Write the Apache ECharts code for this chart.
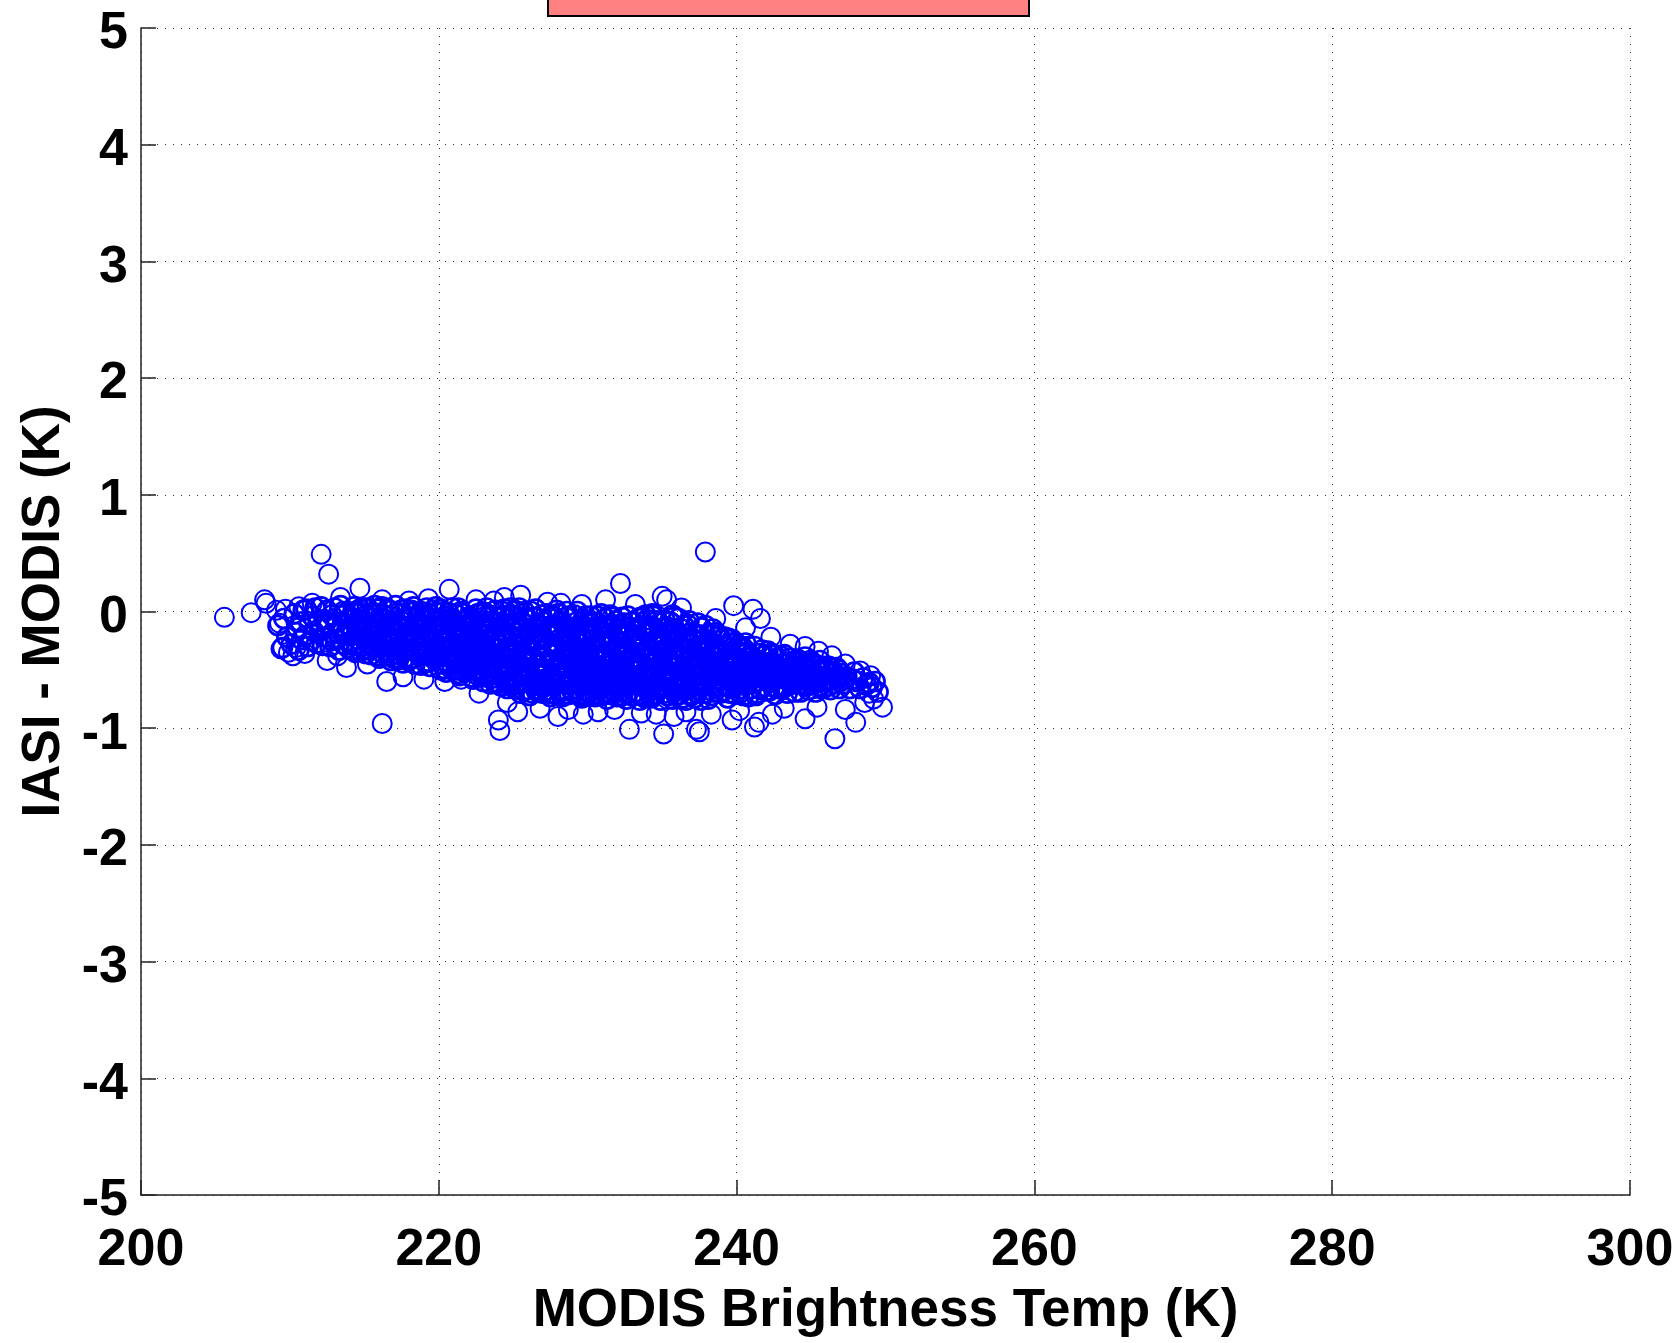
<!DOCTYPE html>
<html>
<head>
<meta charset="utf-8">
<script src="https://cdn.jsdelivr.net/npm/echarts@6/dist/echarts.min.js"></script>
<style>html,body{margin:0;padding:0;background:#fff;}#chart{width:1677px;height:1343px;}</style>
</head>
<body>
<div id="chart"></div>
<script>
// Axis settings / labels
const xTitle = 'MODIS Brightness Temp (K)';
const yTitle = 'IASI - MODIS (K)';
const xRange = [200, 300, 20];
const yRange = [-5, 5, 1];

// Dense core of the cloud [MODIS BT (K), IASI - MODIS (K)]
const cloudPoints = [
[209.2,-0.12],[209.5,-0.31],[209.8,-0.22],[209.6,-0.06],
[210.1,-0.28],[210.3,-0.02],[210.4,-0.18],[210.6,-0.33],[210.7,-0.09],[210.8,-0.24],[210.9,0.01],[210.5,-0.14],
[211.0,-0.21],[211.1,0.02],[211.2,-0.3],[211.3,-0.11],[211.4,-0.25],[211.5,-0.04],[211.6,-0.17],[211.7,0.03],[211.8,-0.27],[211.9,-0.08],
[212.0,-0.15],[212.1,0.04],[212.2,-0.29],[212.3,-0.07],[212.4,-0.22],[212.5,0.01],[212.6,-0.12],[212.7,-0.3],[212.8,-0.03],[212.9,-0.19],[212.4,-0.1],[212.8,-0.25],
[213.0,0.03],[213.1,-0.24],[213.2,-0.09],[213.3,-0.33],[213.4,0.05],[213.5,-0.16],[213.6,-0.28],[213.7,-0.02],[213.8,-0.2],[213.9,-0.11],[213.3,-0.19],[213.6,0.0],[213.9,-0.31],
[214.0,-0.27],[214.1,-0.05],[214.2,-0.18],[214.3,0.04],[214.4,-0.35],[214.5,-0.12],[214.6,-0.24],[214.7,0.02],[214.8,-0.3],[214.9,-0.08],[214.2,-0.33],[214.5,-0.02],[214.7,-0.16],[214.9,-0.22],
[215.0,-0.1],[215.1,-0.36],[215.2,0.03],[215.3,-0.21],[215.4,-0.06],[215.5,-0.3],[215.6,-0.14],[215.7,0.05],[215.8,-0.25],[215.9,-0.38],[215.2,-0.17],[215.4,-0.33],[215.6,-0.01],[215.8,-0.09],[215.9,-0.2],
[216.0,-0.4],[216.1,-0.15],[216.2,0.04],[216.3,-0.28],[216.4,-0.07],[216.5,-0.35],[216.6,-0.2],[216.7,0.01],[216.8,-0.42],[216.9,-0.12],[216.1,-0.31],[216.3,-0.03],[216.5,-0.24],[216.7,-0.38],[216.8,-0.09],[216.9,-0.27],
[217.0,-0.19],[217.1,0.05],[217.2,-0.37],[217.3,-0.11],[217.4,-0.29],[217.5,-0.02],[217.6,-0.44],[217.7,-0.22],[217.8,0.02],[217.9,-0.33],[217.1,-0.25],[217.3,-0.41],[217.5,-0.15],[217.7,-0.06],[217.8,-0.39],[217.9,-0.13],
[218.0,-0.05],[218.1,-0.32],[218.2,-0.17],[218.3,0.04],[218.4,-0.45],[218.5,-0.24],[218.6,-0.1],[218.7,-0.38],[218.8,0.0],[218.9,-0.28],[218.1,-0.41],[218.2,-0.01],[218.4,-0.21],[218.5,-0.35],[218.7,-0.14],[218.8,-0.46],[218.9,-0.07],
[219.0,-0.36],[219.1,-0.12],[219.2,0.03],[219.3,-0.27],[219.4,-0.47],[219.5,-0.06],[219.6,-0.19],[219.7,-0.41],[219.8,0.04],[219.9,-0.31],[219.1,-0.44],[219.2,-0.23],[219.4,-0.02],[219.5,-0.38],[219.7,-0.15],[219.8,-0.29],[219.9,-0.09],
[220.0,-0.2],[220.1,0.02],[220.2,-0.45],[220.3,-0.11],[220.4,-0.33],[220.5,-0.52],[220.6,-0.04],[220.7,-0.26],[220.8,-0.4],[220.9,0.03],[220.1,-0.15],[220.2,-0.3],[220.4,-0.49],[220.5,-0.07],[220.7,-0.37],[220.8,-0.18],[220.9,-0.5],[220.6,-0.22],
[221.0,-0.08],[221.1,-0.41],[221.2,-0.23],[221.3,0.03],[221.4,-0.55],[221.5,-0.16],[221.6,-0.34],[221.7,-0.02],[221.8,-0.47],[221.9,-0.27],[221.1,-0.12],[221.2,-0.5],[221.4,-0.3],[221.5,0.0],[221.6,-0.44],[221.8,-0.19],[221.9,-0.37],[221.3,-0.53],
[222.0,-0.31],[222.1,-0.05],[222.2,-0.56],[222.3,-0.19],[222.4,-0.42],[222.5,0.02],[222.6,-0.27],[222.7,-0.5],[222.8,-0.11],[222.9,-0.36],[222.1,-0.47],[222.2,-0.14],[222.3,-0.58],[222.5,-0.33],[222.6,-0.02],[222.7,-0.23],[222.8,-0.53],[222.9,-0.08],[222.4,-0.39],
[223.0,-0.6],[223.1,-0.17],[223.2,0.03],[223.3,-0.39],[223.4,-0.26],[223.5,-0.52],[223.6,-0.08],[223.7,-0.45],[223.8,-0.31],[223.9,-0.62],[223.1,-0.01],[223.2,-0.48],[223.3,-0.13],[223.5,-0.35],[223.6,-0.57],[223.7,-0.21],[223.8,0.01],[223.9,-0.42],[223.4,-0.55],[223.0,-0.28],
[224.0,-0.1],[224.1,-0.44],[224.2,-0.64],[224.3,-0.23],[224.4,0.02],[224.5,-0.5],[224.6,-0.33],[224.7,-0.6],[224.8,-0.15],[224.9,-0.4],[224.1,-0.28],[224.2,-0.04],[224.3,-0.55],[224.5,-0.19],[224.6,-0.66],[224.7,-0.37],[224.8,0.03],[224.9,-0.58],[224.4,-0.47],[224.0,-0.52],
[225.0,-0.35],[225.1,0.01],[225.2,-0.62],[225.3,-0.18],[225.4,-0.48],[225.5,-0.7],[225.6,-0.09],[225.7,-0.41],[225.8,-0.27],[225.9,-0.56],[225.1,-0.66],[225.2,-0.3],[225.3,-0.52],[225.4,0.03],[225.6,-0.22],[225.7,-0.68],[225.8,-0.05],[225.9,-0.38],[225.5,-0.13],[225.0,-0.59],[225.3,-0.44],
[226.0,-0.07],[226.1,-0.52],[226.2,-0.29],[226.3,-0.7],[226.4,-0.14],[226.5,0.02],[226.6,-0.45],[226.7,-0.63],[226.8,-0.21],[226.9,-0.37],[226.1,-0.72],[226.2,0.0],[226.3,-0.41],[226.4,-0.58],[226.6,-0.11],[226.7,-0.33],[226.8,-0.67],[226.9,-0.03],[226.5,-0.25],[226.0,-0.48],[226.8,-0.55],
[227.0,-0.65],[227.1,-0.24],[227.2,-0.02],[227.3,-0.5],[227.4,-0.36],[227.5,-0.73],[227.6,-0.12],[227.7,-0.43],[227.8,-0.59],[227.9,0.01],[227.1,-0.39],[227.2,-0.68],[227.3,-0.17],[227.4,-0.05],[227.6,-0.55],[227.7,-0.28],[227.8,-0.71],[227.9,-0.47],[227.5,-0.2],[227.0,-0.09],[227.6,-0.62],
[228.0,-0.31],[228.1,-0.6],[228.2,-0.08],[228.3,-0.44],[228.4,-0.71],[228.5,-0.17],[228.6,0.0],[228.7,-0.53],[228.8,-0.26],[228.9,-0.67],[228.1,-0.13],[228.2,-0.39],[228.3,-0.73],[228.5,-0.49],[228.6,-0.22],[228.7,-0.04],[228.8,-0.62],[228.9,-0.35],[228.4,-0.57],[228.0,-0.02],[228.6,-0.46],
[229.0,-0.48],[229.1,-0.03],[229.2,-0.66],[229.3,-0.27],[229.4,-0.12],[229.5,-0.58],[229.6,-0.74],[229.7,-0.36],[229.8,-0.19],[229.9,-0.51],[229.1,-0.7],[229.2,-0.42],[229.3,0.0],[229.4,-0.62],[229.6,-0.24],[229.7,-0.07],[229.8,-0.68],[229.9,-0.31],[229.5,-0.45],[229.0,-0.15],[229.4,-0.55],
[230.0,-0.69],[230.1,-0.21],[230.2,-0.04],[230.3,-0.56],[230.4,-0.38],[230.5,-0.73],[230.6,-0.14],[230.7,-0.47],[230.8,-0.61],[230.9,-0.02],[230.1,-0.5],[230.2,-0.31],[230.3,-0.72],[230.5,-0.09],[230.6,-0.42],[230.7,-0.66],[230.8,-0.26],[230.9,-0.54],[230.4,-0.18],[230.0,-0.35],[230.6,-0.6],
[231.0,-0.12],[231.1,-0.63],[231.2,-0.4],[231.3,-0.75],[231.4,-0.25],[231.5,-0.03],[231.6,-0.53],[231.7,-0.68],[231.8,-0.33],[231.9,-0.16],[231.1,-0.46],[231.2,-0.06],[231.3,-0.58],[231.5,-0.71],[231.6,-0.29],[231.7,-0.44],[231.8,-0.64],[231.9,-0.08],[231.4,-0.5],[231.0,-0.37],[231.5,-0.2],
[232.0,-0.55],[232.1,-0.3],[232.2,-0.73],[232.3,-0.05],[232.4,-0.62],[232.5,-0.42],[232.6,-0.17],[232.7,-0.7],[232.8,-0.48],[232.9,-0.26],[232.1,-0.66],[232.2,-0.11],[232.3,-0.39],[232.5,-0.58],[232.6,-0.75],[232.7,-0.04],[232.8,-0.34],[232.9,-0.6],[232.4,-0.21],[232.0,-0.45],[232.6,-0.52],
[233.0,-0.09],[233.1,-0.5],[233.2,-0.69],[233.3,-0.28],[233.4,-0.44],[233.5,-0.76],[233.6,-0.15],[233.7,-0.57],[233.8,-0.37],[233.9,-0.03],[233.1,-0.22],[233.2,-0.61],[233.3,-0.47],[233.5,-0.32],[233.6,-0.72],[233.7,-0.12],[233.8,-0.53],[233.9,-0.66],[233.4,-0.06],[233.0,-0.4],[233.6,-0.25],
[234.0,-0.63],[234.1,-0.19],[234.2,-0.41],[234.3,-0.74],[234.4,-0.04],[234.5,-0.54],[234.6,-0.3],[234.7,-0.67],[234.8,-0.1],[234.9,-0.46],[234.1,-0.57],[234.2,-0.72],[234.3,-0.35],[234.5,-0.14],[234.6,-0.6],[234.7,-0.24],[234.8,-0.49],[234.9,-0.76],[234.4,-0.38],[234.0,-0.07],[234.6,-0.43],
[235.0,-0.33],[235.1,-0.7],[235.2,-0.08],[235.3,-0.5],[235.4,-0.62],[235.5,-0.2],[235.6,-0.44],[235.7,-0.75],[235.8,-0.05],[235.9,-0.57],[235.1,-0.27],[235.2,-0.65],[235.3,-0.13],[235.5,-0.52],[235.6,-0.38],[235.7,-0.03],[235.8,-0.69],[235.9,-0.23],[235.4,-0.46],[235.0,-0.59],[235.6,-0.16],
[236.0,-0.48],[236.1,-0.06],[236.2,-0.61],[236.3,-0.35],[236.4,-0.74],[236.5,-0.22],[236.6,-0.53],[236.7,-0.11],[236.8,-0.66],[236.9,-0.4],[236.1,-0.29],[236.2,-0.71],[236.3,-0.15],[236.5,-0.58],[236.6,-0.76],[236.7,-0.44],[236.8,-0.08],[236.9,-0.26],[236.4,-0.5],[236.0,-0.65],
[237.0,-0.18],[237.1,-0.56],[237.2,-0.74],[237.3,-0.31],[237.4,-0.1],[237.5,-0.64],[237.6,-0.45],[237.7,-0.24],[237.8,-0.7],[237.9,-0.12],[237.1,-0.38],[237.2,-0.6],[237.3,-0.5],[237.5,-0.2],[237.6,-0.76],[237.7,-0.34],[237.8,-0.55],[237.9,-0.42],[237.4,-0.67],[237.0,-0.28],
[238.0,-0.6],[238.1,-0.25],[238.2,-0.43],[238.3,-0.72],[238.4,-0.15],[238.5,-0.52],[238.6,-0.34],[238.7,-0.66],[238.8,-0.2],[238.9,-0.47],[238.1,-0.75],[238.2,-0.3],[238.4,-0.56],[238.5,-0.39],[238.6,-0.18],[238.7,-0.5],[238.9,-0.7],[238.3,-0.62],
[239.0,-0.35],[239.1,-0.68],[239.2,-0.22],[239.3,-0.51],[239.4,-0.74],[239.5,-0.42],[239.6,-0.27],[239.7,-0.6],[239.8,-0.46],[239.9,-0.71],[239.1,-0.3],[239.2,-0.56],[239.4,-0.38],[239.5,-0.65],[239.7,-0.24],[239.8,-0.53],[239.9,-0.33],
[240.0,-0.58],[240.1,-0.29],[240.2,-0.7],[240.3,-0.45],[240.4,-0.35],[240.5,-0.63],[240.6,-0.27],[240.7,-0.52],[240.8,-0.73],[240.9,-0.4],[240.1,-0.49],[240.3,-0.66],[240.5,-0.32],[240.7,-0.6],[240.9,-0.55],
[241.0,-0.38],[241.1,-0.62],[241.2,-0.3],[241.3,-0.72],[241.4,-0.5],[241.5,-0.42],[241.6,-0.67],[241.7,-0.33],[241.8,-0.57],[241.9,-0.46],[241.2,-0.53],[241.4,-0.7],[241.6,-0.36],[241.8,-0.64],
[242.0,-0.55],[242.1,-0.34],[242.2,-0.68],[242.3,-0.44],[242.4,-0.6],[242.5,-0.37],[242.6,-0.71],[242.7,-0.5],[242.8,-0.4],[242.9,-0.63],[242.2,-0.48],[242.5,-0.57],[242.8,-0.66],
[243.0,-0.45],[243.1,-0.66],[243.2,-0.37],[243.3,-0.58],[243.4,-0.7],[243.5,-0.49],[243.6,-0.4],[243.7,-0.62],[243.8,-0.53],[243.9,-0.69],[243.3,-0.44],[243.7,-0.56],
[244.0,-0.6],[244.1,-0.41],[244.2,-0.52],[244.3,-0.69],[244.4,-0.46],[244.5,-0.62],[244.6,-0.39],[244.7,-0.56],[244.8,-0.67],[244.9,-0.49],[244.5,-0.54],
[245.0,-0.44],[245.1,-0.63],[245.2,-0.53],[245.3,-0.69],[245.4,-0.47],[245.5,-0.6],[245.6,-0.42],[245.7,-0.56],[245.8,-0.66],[245.9,-0.5],
[246.0,-0.58],[246.2,-0.47],[246.3,-0.67],[246.4,-0.53],[246.6,-0.62],[246.7,-0.48],[246.8,-0.57],[246.9,-0.66],
[247.0,-0.53],[247.2,-0.62],[247.4,-0.56],[247.6,-0.66],[247.8,-0.58],[247.9,-0.52],
[248.1,-0.6],[248.3,-0.66],[248.5,-0.57],[248.7,-0.63],[248.9,-0.61],
[249.1,-0.65],[249.3,-0.6],[249.5,-0.69]
];

// More points inside the densest (solid-looking) part of the cloud
const denseCorePoints = [
[214.05,-0.13],[214.25,-0.29],[214.35,0.0],[214.45,-0.2],[214.65,-0.07],[214.75,-0.34],[214.85,-0.14],[214.95,0.03],
[215.05,-0.24],[215.15,-0.03],[215.35,-0.12],[215.45,-0.37],[215.55,-0.22],[215.75,-0.31],[215.85,0.02],[215.95,-0.15],
[216.05,-0.06],[216.15,-0.22],[216.25,-0.36],[216.45,-0.14],[216.55,0.02],[216.65,-0.3],[216.85,-0.18],[216.95,-0.4],
[217.05,-0.31],[217.15,-0.08],[217.25,-0.17],[217.45,0.01],[217.55,-0.35],[217.65,-0.27],[217.85,-0.09],[217.95,-0.42],
[218.05,-0.25],[218.15,0.01],[218.25,-0.4],[218.35,-0.12],[218.55,-0.3],[218.65,-0.03],[218.75,-0.21],[218.95,-0.37],
[219.05,-0.04],[219.15,-0.33],[219.25,-0.16],[219.35,-0.43],[219.55,-0.25],[219.65,0.01],[219.75,-0.35],[219.95,-0.2],
[220.05,-0.35],[220.15,-0.08],[220.25,-0.24],[220.35,-0.42],[220.35,0.0],[220.45,-0.17],[220.55,-0.3],[220.65,-0.46],[220.75,-0.1],[220.85,-0.29],[220.95,-0.13],[220.15,-0.5],[220.65,-0.01],
[221.05,-0.29],[221.15,-0.02],[221.25,-0.38],[221.35,-0.15],[221.45,-0.46],[221.55,-0.24],[221.65,-0.09],[221.75,-0.52],[221.85,-0.33],[221.95,-0.05],[221.25,-0.2],[221.65,-0.4],[221.95,-0.5],
[222.05,-0.13],[222.15,-0.4],[222.25,-0.25],[222.35,-0.5],[222.45,-0.08],[222.55,-0.44],[222.65,-0.17],[222.75,-0.38],[222.85,-0.01],[222.95,-0.56],[222.35,-0.3],[222.65,-0.55],[222.95,-0.2],
[223.05,-0.37],[223.15,-0.55],[223.25,-0.2],[223.35,-0.04],[223.45,-0.45],[223.55,-0.15],[223.65,-0.32],[223.75,-0.6],[223.85,-0.24],[223.95,-0.05],[223.45,-0.62],[223.65,-0.41],[223.15,-0.29],
[224.05,-0.32],[224.15,-0.13],[224.25,-0.5],[224.35,-0.38],[224.45,-0.6],[224.55,-0.07],[224.65,-0.25],[224.75,-0.46],[224.85,-0.63],[224.95,-0.21],[224.25,0.0],[224.55,-0.56],[224.95,-0.03],
[225.05,-0.12],[225.15,-0.47],[225.25,-0.06],[225.35,-0.63],[225.45,-0.24],[225.55,-0.55],[225.65,-0.36],[225.75,0.0],[225.85,-0.49],[225.95,-0.67],[225.25,-0.4],[225.65,-0.6],[225.95,-0.18],
[226.05,-0.33],[226.15,-0.16],[226.25,-0.62],[226.35,-0.05],[226.45,-0.5],[226.55,-0.68],[226.65,-0.28],[226.75,-0.46],[226.85,-0.12],[226.95,-0.6],[226.25,-0.39],[226.55,-0.19],[226.95,-0.7],
[227.05,-0.44],[227.15,-0.58],[227.25,-0.3],[227.35,-0.7],[227.45,-0.14],[227.55,-0.42],[227.65,-0.04],[227.75,-0.63],[227.85,-0.33],[227.95,-0.18],[227.25,-0.52],[227.55,-0.61],[227.85,-0.5],
[228.05,-0.5],[228.15,-0.23],[228.25,-0.67],[228.35,-0.1],[228.45,-0.36],[228.55,-0.62],[228.65,-0.3],[228.75,-0.71],[228.85,-0.15],[228.95,-0.45],[228.25,-0.54],[228.55,-0.05],[228.85,-0.39],
[229.05,-0.6],[229.15,-0.34],[229.25,-0.09],[229.35,-0.5],[229.45,-0.71],[229.55,-0.2],[229.65,-0.41],[229.75,-0.62],[229.85,-0.04],[229.95,-0.72],[229.25,-0.22],[229.55,-0.33],[229.85,-0.56],
[230.05,-0.09],[230.15,-0.63],[230.25,-0.44],[230.35,-0.25],[230.45,-0.64],[230.55,-0.34],[230.65,-0.04],[230.75,-0.56],[230.85,-0.72],[230.95,-0.39],[230.25,-0.14],[230.55,-0.51],[230.95,-0.22],
[231.05,-0.54],[231.15,-0.27],[231.25,-0.69],[231.35,-0.13],[231.45,-0.62],[231.55,-0.41],[231.65,-0.05],[231.75,-0.22],[231.85,-0.55],[231.95,-0.73],[231.35,-0.36],[231.65,-0.6],[231.95,-0.3],
[232.05,-0.2],[232.15,-0.5],[232.25,-0.36],[232.35,-0.68],[232.45,-0.1],[232.55,-0.29],[232.65,-0.63],[232.75,-0.43],[232.85,-0.14],[232.95,-0.72],[232.35,-0.55],[232.65,-0.32],[232.95,-0.47],
[233.05,-0.62],[233.15,-0.35],[233.25,-0.14],[233.35,-0.55],[233.45,-0.71],[233.55,-0.05],[233.65,-0.45],[233.75,-0.29],[233.85,-0.74],[233.95,-0.5],[233.25,-0.39],[233.55,-0.62],[233.95,-0.19],
[234.05,-0.33],[234.15,-0.68],[234.25,-0.13],[234.35,-0.52],[234.45,-0.27],[234.55,-0.71],[234.65,-0.08],[234.75,-0.4],[234.85,-0.63],[234.95,-0.2],[234.35,-0.02],[234.65,-0.53],[234.95,-0.58],
[235.05,-0.45],[235.15,-0.14],[235.25,-0.56],[235.35,-0.72],[235.45,-0.3],[235.55,-0.09],[235.65,-0.6],[235.75,-0.36],[235.85,-0.15],[235.95,-0.72],[235.35,-0.4],[235.65,-0.27],[235.95,-0.47],
[236.05,-0.2],[236.15,-0.56],[236.25,-0.42],[236.35,-0.67],[236.45,-0.12],[236.55,-0.38],[236.65,-0.62],[236.75,-0.28],[236.85,-0.52],[236.95,-0.72],[236.45,-0.31],
[237.05,-0.48],[237.15,-0.2],[237.25,-0.41],[237.35,-0.7],[237.45,-0.55],[237.55,-0.3],[237.65,-0.14],[237.75,-0.62],[237.85,-0.4],[237.95,-0.28],[237.45,-0.45],
[238.05,-0.4],[238.15,-0.58],[238.25,-0.2],[238.35,-0.5],[238.45,-0.69],[238.55,-0.28],[238.65,-0.44],[238.75,-0.58],[238.85,-0.36],[238.95,-0.24],[238.45,-0.33],
[239.05,-0.52],[239.15,-0.42],[239.25,-0.64],[239.35,-0.3],[239.45,-0.55],[239.55,-0.7],[239.65,-0.36],[239.75,-0.48],[239.85,-0.64],[239.95,-0.27],[239.45,-0.23],
[240.05,-0.4],[240.15,-0.62],[240.25,-0.53],[240.35,-0.3],[240.45,-0.72],[240.55,-0.45],[240.65,-0.6],[240.75,-0.35],[240.85,-0.5],[240.95,-0.66],[240.45,-0.58],
[241.05,-0.52],[241.25,-0.43],[241.35,-0.6],[241.55,-0.55],[241.65,-0.45],[241.85,-0.38],[241.95,-0.68],
[242.05,-0.44],[242.25,-0.58],[242.35,-0.36],[242.55,-0.65],[242.65,-0.46],[242.85,-0.55],[242.95,-0.38],
[243.05,-0.57],[243.25,-0.64],[243.35,-0.5],[243.55,-0.6],[243.65,-0.47],[243.85,-0.62],[243.95,-0.42],
[244.05,-0.5],[244.25,-0.62],[244.35,-0.55],[244.55,-0.45],[244.65,-0.64],[244.85,-0.58],[244.95,-0.42],
[245.05,-0.56],[245.25,-0.45],[245.35,-0.6],[245.55,-0.52],[245.65,-0.64],[245.85,-0.47],[245.95,-0.6],
[246.05,-0.5],[246.15,-0.64],[246.35,-0.58],[246.55,-0.52],[246.65,-0.56],[246.85,-0.5],[246.95,-0.6]
];

// Points along the upper edge of the cloud and above it
const upperPoints = [
[212.1,0.49],[212.6,0.32],[214.7,0.2],[213.4,0.12],[216.2,0.1],[218.0,0.09],[219.3,0.11],[220.7,0.19],[222.5,0.1],[223.7,0.09],
[225.5,0.14],[224.4,0.12],[227.3,0.08],[228.2,0.07],[229.6,0.06],[231.2,0.1],[232.2,0.24],[233.2,0.06],[235.0,0.13],[235.3,0.1],
[236.3,0.03],[237.9,0.51],[238.6,-0.06],[239.8,0.05],[241.1,0.02],[241.6,-0.06],[240.6,-0.14],[242.3,-0.22],[243.6,-0.28],[244.6,-0.3],
[245.5,-0.34],[246.4,-0.38],[247.3,-0.45],[248.3,-0.51],[249.0,-0.55],[210.6,0.04],[211.5,0.07],[209.7,0.02]
];

// Isolated points at the left end and along the lower-left edge
const leftPoints = [
[205.6,-0.05],[207.4,-0.01],[208.3,0.1],[208.4,0.07],[209.1,0.01],[209.3,-0.1],[209.4,-0.32],[209.9,-0.35],[210.4,-0.31],[210.2,-0.38],
[211.0,-0.36],[212.5,-0.42],[213.8,-0.48],[213.2,-0.38],[215.2,-0.45],[216.5,-0.6],[217.6,-0.56],[219.0,-0.58],[220.4,-0.6],[221.5,-0.58],
[222.7,-0.7],[224.6,-0.78]
];

// Points along the lower edge of the cloud and below it
const lowerPoints = [
[216.2,-0.96],[224.0,-0.93],[224.1,-1.02],[225.3,-0.86],[226.8,-0.83],[228.0,-0.9],[228.7,-0.84],[229.7,-0.88],[230.7,-0.86],[231.8,-0.84],
[232.8,-1.01],[233.6,-0.87],[234.6,-0.88],[235.1,-1.05],[235.8,-0.9],[236.6,-0.86],[237.3,-1.01],[237.5,-1.03],[238.3,-0.88],[239.7,-0.93],
[240.2,-0.85],[241.2,-0.99],[241.5,-0.95],[242.4,-0.88],[243.2,-0.83],[244.6,-0.92],[245.4,-0.82],[246.6,-1.09],[247.3,-0.84],[248.0,-0.95],
[248.6,-0.78],[249.2,-0.75],[249.8,-0.82],[248.9,-0.7]
];

const FONT = '"Liberation Sans", Arial, Helvetica, sans-serif';
const chart = echarts.init(document.getElementById('chart'), null, {renderer: 'canvas'});
const gridLine = {show: true, lineStyle: {color: '#333', width: 1, type: [1, 7]}};
const ringStyle = (w) => ({color: 'rgba(0,0,0,0)', borderColor: '#0000ff', borderWidth: w, opacity: 1});
const option = {
  animation: false,
  backgroundColor: '#fff',
  grid: {left: 141, top: 28, width: 1489, height: 1173, containLabel: false},
  xAxis: {
    type: 'value', min: xRange[0], max: xRange[1], interval: xRange[2],
    name: xTitle, nameLocation: 'middle', nameGap: 90,
    nameTextStyle: {fontFamily: FONT, fontWeight: 'bold', fontSize: 53, color: '#000'},
    axisLine: {show: true, onZero: false, lineStyle: {color: '#222', width: 1.5}},
    axisTick: {show: true, inside: true, length: 15, lineStyle: {color: '#222', width: 1.5}},
    axisLabel: {fontFamily: FONT, fontWeight: 'bold', fontSize: 52, color: '#000', margin: 30},
    splitLine: gridLine
  },
  yAxis: {
    type: 'value', min: yRange[0], max: yRange[1], interval: yRange[2],
    name: yTitle, nameLocation: 'middle', nameGap: 69, nameRotate: 90,
    nameTextStyle: {fontFamily: FONT, fontWeight: 'bold', fontSize: 53, color: '#000'},
    axisLine: {show: true, onZero: false, lineStyle: {color: '#222', width: 1.5}},
    axisTick: {show: true, inside: true, length: 15, lineStyle: {color: '#222', width: 1.5}},
    axisLabel: {
      margin: 13, formatter: '{t|{value}}',
      rich: {t: {fontFamily: FONT, fontWeight: 'bold', fontSize: 52, color: '#000', padding: [12, 0, 0, 0]}}
    },
    splitLine: gridLine
  },
  graphic: [{
    type: 'rect', left: 547, top: -20, shape: {width: 481, height: 35},
    style: {fill: '#ff8080', stroke: '#000', lineWidth: 2}, z: 100
  }],
  series: [{
    type: 'scatter',
    data: cloudPoints.concat(denseCorePoints),
    symbol: 'circle', symbolSize: 19,
    itemStyle: ringStyle(2.7),
    emphasis: {disabled: true},
    silent: true
  }, {
    type: 'scatter',
    data: upperPoints.concat(leftPoints, lowerPoints),
    symbol: 'circle', symbolSize: 19,
    itemStyle: ringStyle(2),
    emphasis: {disabled: true},
    silent: true
  }]
};
chart.setOption(option);
</script>
</body>
</html>
